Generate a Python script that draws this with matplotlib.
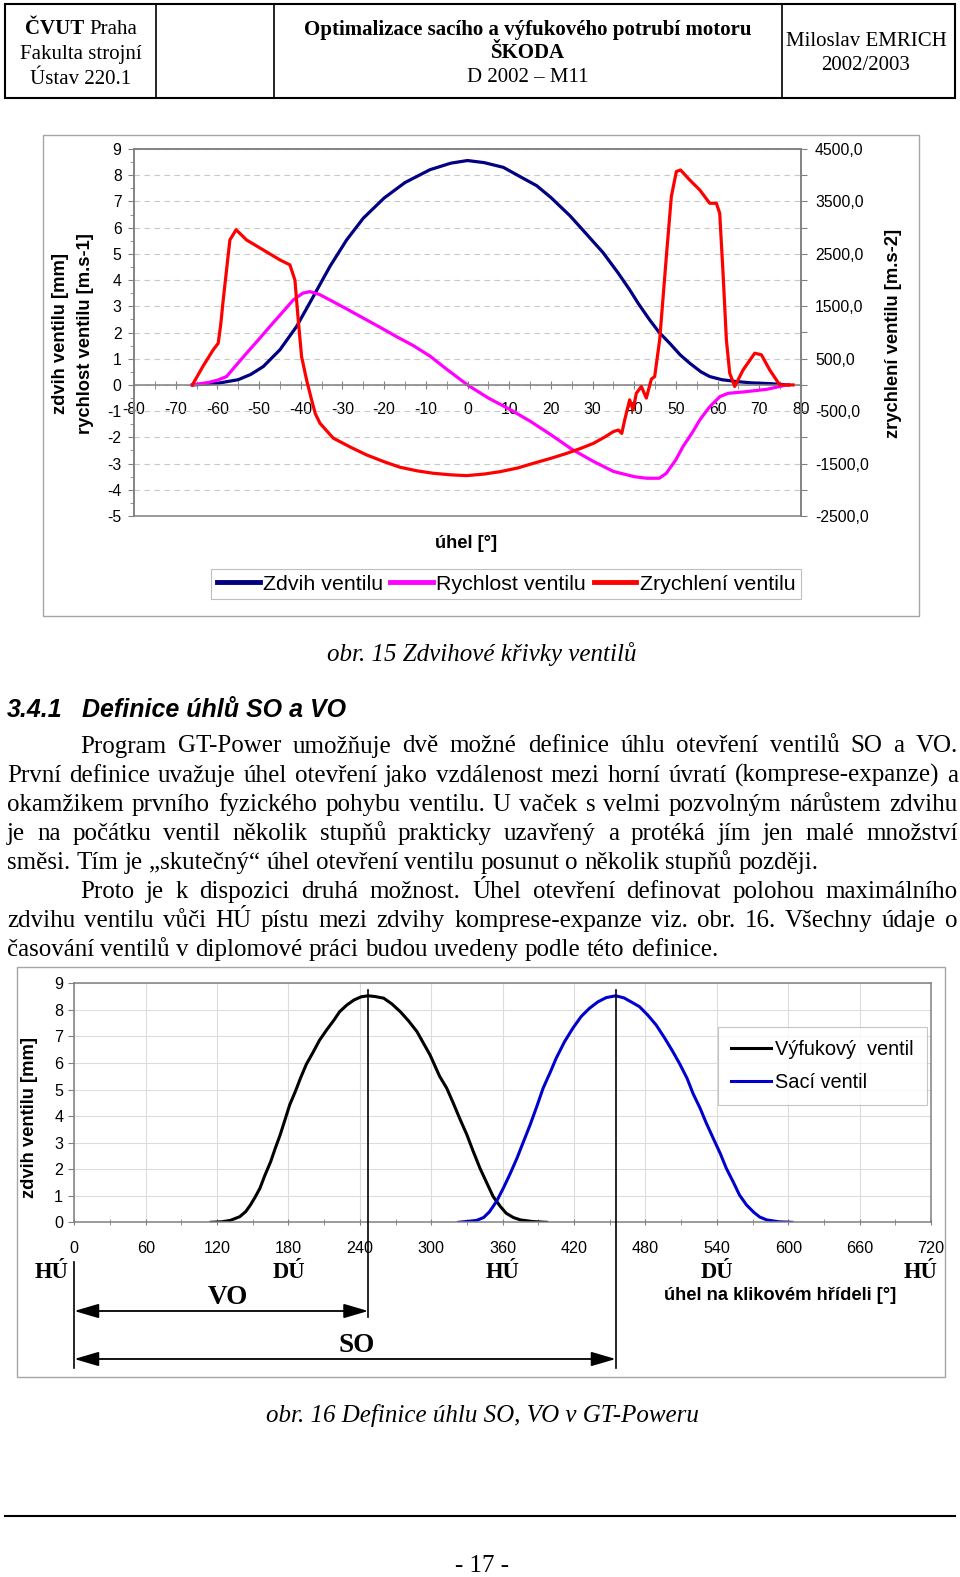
import numpy as np
import matplotlib
matplotlib.use('Agg')
import matplotlib.pyplot as plt
from matplotlib.patches import Rectangle
from matplotlib.lines import Line2D
from matplotlib.ticker import MultipleLocator
from matplotlib.transforms import blended_transform_factory

# --- page geometry (pixels) ---
W, H = 960, 1577
SERIF = 'Liberation Serif'
SANS = 'Liberation Sans'
BODY_SIZE = 18
TEXT_RIGHT = 958

# --- DATA: obr. 15 (valve lift / velocity / acceleration vs. angle) ---
lift_deg = [-66, -60, -55, -52, -49, -45, -41, -37, -33, -29, -25, -20, -15, -9, -4, 0, 4,
            8.6, 12, 16.6, 20, 24.6, 28, 32.5, 36, 38.9, 41, 43.7, 46, 48.5, 51, 53.3, 56,
            58.1, 61, 64.5, 68, 72.5, 77]
lift_mm = [0.0, 0.06, 0.2, 0.4, 0.7, 1.34, 2.23, 3.37, 4.52, 5.53, 6.36, 7.13, 7.72, 8.21,
           8.46, 8.56, 8.48, 8.3, 8.0, 7.6, 7.15, 6.45, 5.85, 5.05, 4.3, 3.63, 3.1, 2.48, 2.0,
           1.59, 1.15, 0.83, 0.5, 0.32, 0.2, 0.13, 0.08, 0.05, 0.0]

vel_deg = [-66, -62, -60, -57.8, -55.5, -53, -50, -47.4, -44.5, -41.8, -39.5, -37.8, -35.5,
           -33, -29, -25, -21, -17, -13, -9, -5, 0, 5, 10, 15, 20, 25, 30, 35, 40, 43, 46,
           47.7, 50, 51.7, 54, 55.7, 58, 60.5, 62.5, 66, 71.7, 74.9, 76.5]
vel_ms = [0.0, 0.1, 0.18, 0.32, 0.75, 1.21, 1.75, 2.23, 2.75, 3.24, 3.5, 3.56, 3.45, 3.24,
          2.9, 2.55, 2.2, 1.84, 1.5, 1.1, 0.6, 0.0, -0.5, -0.92, -1.38, -1.9, -2.45, -2.9,
          -3.3, -3.5, -3.56, -3.56, -3.37, -2.85, -2.35, -1.8, -1.34, -0.85, -0.45, -0.32,
          -0.27, -0.17, -0.06, 0.0]

acc_deg = [-66, -63.5, -61, -59.8, -59.2, -58.6, -57, -55.5, -53, -49, -45, -42.6, -41.4,
           -40.6, -39.8, -38.6, -37.4, -36.5, -35.4, -32.2, -28, -24.2, -20, -16.2, -12, -8.2,
           -4, -0.2, 4, 7.8, 12, 15.8, 20, 23.8, 27, 30.2, 33, 35, 36.2, 37, 37.7, 38.9, 39.7,
           40.5, 41.7, 42.9, 44.1, 44.9, 46.1, 47.7, 48.9, 50.1, 51.1, 53.3, 55.7, 58.1, 59.7,
           60.5, 61.3, 62.1, 62.9, 64.1, 66.1, 68.9, 70.5, 72.5, 74.9, 78.1]
acc_ms2 = [0, 350, 670, 795, 1150, 1620, 2765, 2960, 2765, 2575, 2385, 2290, 2000, 1240, 540,
           95, -285, -550, -730, -1015, -1190, -1335, -1465, -1570, -1640, -1685, -1715, -1730,
           -1700, -1655, -1585, -1495, -1400, -1305, -1215, -1115, -990, -890, -860, -925, -670,
           -285, -475, -160, -30, -250, 110, 160, 860, 2450, 3595, 4070, 4100, 3910, 3720, 3465,
           3465, 3275, 2130, 860, 225, -30, 285, 605, 575, 285, 0, 0]

top_xticks = list(range(-80, 81, 10))
acc_ticks = list(range(-2500, 4501, 500))
acc_labels = ['-2500,0', '', '-1500,0', '', '-500,0', '', '500,0', '', '1500,0', '',
              '2500,0', '', '3500,0', '', '4500,0']
top_labels = ['Zdvih ventilu', 'Rychlost ventilu', 'Zrychlení ventilu']

# --- DATA: obr. 16 (exhaust / intake lift vs. crank angle) ---
exh_deg = [115, 124, 131, 139, 144, 148, 152, 156, 160, 165, 169, 173, 177, 181, 186, 190,
           195, 201, 206, 212, 218, 223, 229, 235, 241, 247, 253, 260, 267, 274, 281, 288,
           293, 299, 303, 307, 313, 318, 324, 330, 335, 341, 347, 352, 358, 363, 369, 375,
           385, 397]
exh_lift = [0.0, 0.02, 0.07, 0.21, 0.4, 0.65, 0.95, 1.28, 1.75, 2.28, 2.8, 3.29, 3.85, 4.42,
            4.95, 5.42, 5.95, 6.43, 6.85, 7.24, 7.6, 7.93, 8.18, 8.37, 8.49, 8.53, 8.5, 8.44,
            8.22, 7.93, 7.58, 7.18, 6.78, 6.3, 5.9, 5.5, 5.05, 4.54, 3.9, 3.29, 2.7, 2.03,
            1.45, 0.97, 0.6, 0.34, 0.18, 0.09, 0.03, 0.0]
int_deg = [323, 338, 344, 349, 355, 360.5, 366, 372, 377, 383, 389, 394, 400, 405, 412, 419,
           426, 433, 440, 447, 455, 462, 468, 475, 482, 489, 496, 503, 509, 515, 520, 526,
           531, 537, 543, 548, 554, 559, 565, 571, 576, 582, 592, 603]
int_lift = [0.0, 0.07, 0.18, 0.4, 0.8, 1.28, 1.8, 2.41, 2.98, 3.66, 4.4, 5.05, 5.65, 6.18,
            6.8, 7.31, 7.75, 8.06, 8.3, 8.46, 8.53, 8.45, 8.3, 8.12, 7.8, 7.43, 6.95, 6.43,
            5.95, 5.42, 4.85, 4.29, 3.75, 3.16, 2.58, 2.03, 1.5, 1.03, 0.65, 0.38, 0.2, 0.09,
            0.02, 0.0]
bottom_labels = ['Výfukový  ventil', 'Sací ventil']
dead_centres = [(0, 'HÚ'), (180, 'DÚ'), (360, 'HÚ'), (540, 'DÚ'), (720, 'HÚ')]

body_lines = [
    ('Program GT-Power umožňuje dvě možné definice úhlu otevření ventilů SO a VO.', 80.5, True),
    ('První definice uvažuje úhel otevření jako vzdálenost mezi horní úvratí (komprese-expanze) a', 7, True),
    ('okamžikem prvního fyzického pohybu ventilu. U vaček s velmi pozvolným nárůstem zdvihu', 7, True),
    ('je na počátku ventil několik stupňů prakticky uzavřený a protéká jím jen malé množství', 7, True),
    ('směsi. Tím je „skutečný“ úhel otevření ventilu posunut o několik stupňů později.', 7, False),
    ('Proto je k dispozici druhá možnost. Úhel otevření definovat polohou maximálního', 80.5, True),
    ('zdvihu ventilu vůči HÚ pístu mezi zdvihy komprese-expanze viz. obr. 16. Všechny údaje o', 7, True),
    ('časování ventilů v diplomové práci budou uvedeny podle této definice.', 7, False),
]

plt.rcParams['font.family'] = [SANS, 'DejaVu Sans']
plt.rcParams['axes.unicode_minus'] = False
fig = plt.figure(figsize=(W / 100, H / 100), dpi=100)


def fx(px):
    return px / W


def fy(py):
    return 1 - py / H


def rect(x0, y0, x1, y1):
    return [fx(x0), fy(y1), (x1 - x0) / W, (y1 - y0) / H]


def box(x0, y0, x1, y1, **kw):
    fig.add_artist(Rectangle((fx(x0), fy(y1)), (x1 - x0) / W, (y1 - y0) / H,
                             transform=fig.transFigure, fill=False, **kw))


def hline(x0, x1, y, **kw):
    fig.add_artist(Line2D([fx(x0), fx(x1)], [fy(y), fy(y)], transform=fig.transFigure, **kw))


def vline(x, y0, y1, **kw):
    fig.add_artist(Line2D([fx(x), fx(x)], [fy(y0), fy(y1)], transform=fig.transFigure, **kw))


def txt(x, y, s, **kw):
    kw.setdefault('family', SERIF)
    kw.setdefault('ha', 'center')
    kw.setdefault('va', 'center')
    return fig.text(fx(x), fy(y), s, **kw)


# --- 1. PAGE HEADER ---
box(5, 4, 955, 98, lw=1.5, ec='black')
for xd in [156, 273.5, 781.5]:
    vline(xd, 4, 98, lw=1.2, color='black')
txt(84.5, 29, 'ČVUT', fontsize=15, weight='bold', ha='right')
txt(89.5, 29, 'Praha', fontsize=15, ha='left')
txt(80.5, 54.5, 'Fakulta strojní', fontsize=15)
txt(80.5, 79.5, 'Ústav 220.1', fontsize=15)
txt(528, 29.5, 'Optimalizace sacího a výfukového potrubí motoru', fontsize=15, weight='bold')
txt(528, 53, 'ŠKODA', fontsize=15, weight='bold')
txt(528, 77, 'D 2002 – M11', fontsize=15)
txt(866, 41, 'Miloslav EMRICH', fontsize=15)
txt(866, 65, '2002/2003', fontsize=15)

# --- 2. TOP CHART (obr. 15) ---
GRAY = '#808080'
box(43, 135, 919, 616, lw=1.0, ec='#a6a6a6')
ax = fig.add_axes(rect(134, 149, 801, 516))
ax.plot(lift_deg, lift_mm, color='#000080', lw=2.3, label=top_labels[0])
ax.plot(vel_deg, vel_ms, color='#ff00ff', lw=2.3, label=top_labels[1])
ax2 = ax.twinx()
ax2.plot(acc_deg, acc_ms2, color='#ff0000', lw=2.3, label=top_labels[2])

ax.set_xlim(-80, 80)
ax.set_ylim(-5, 9)
ax2.set_ylim(-2500, 4500)
ax.set_xticks(top_xticks)
ax.xaxis.set_minor_locator(MultipleLocator(5))
ax.set_yticks(range(-5, 10))
ax.yaxis.set_minor_locator(MultipleLocator(0.5))
ax.spines['bottom'].set_position(('data', 0))
ax.set_axisbelow(True)
ax.grid(axis='y', ls=(0, (5, 4)), color='#c8c8c8', lw=0.8)
ax.tick_params(axis='x', which='both', direction='inout', length=6, pad=9,
               labelsize=11.3, color=GRAY)
ax.tick_params(axis='y', which='major', direction='out', length=4, pad=5,
               labelsize=11.3, color=GRAY)
ax.tick_params(axis='y', which='minor', direction='out', length=3, color=GRAY)
ax2.set_yticks(acc_ticks)
ax2.set_yticklabels(acc_labels)
ax2.tick_params(axis='y', direction='out', length=4, pad=6, labelsize=11.3, color=GRAY)
for a in (ax, ax2):
    for sp in a.spines.values():
        sp.set_color(GRAY)
        sp.set_linewidth(1.1)

txt(60.3, 334, 'zdvih ventilu [mm]', family=SANS, fontsize=13.2, weight='bold', rotation=90)
txt(85.5, 334, 'rychlost ventilu [m.s-1]', family=SANS, fontsize=13.2, weight='bold', rotation=90)
txt(893, 333, 'zrychlení ventilu [m.s-2]', family=SANS, fontsize=13.2, weight='bold', rotation=90)
txt(465.6, 544, 'úhel [°]', family=SANS, fontsize=13.2, weight='bold')

handles = ax.get_lines() + ax2.get_lines()
leg = fig.legend(handles, top_labels, loc='center', bbox_to_anchor=(fx(506), fy(584)),
                 ncol=3, fancybox=False, edgecolor='#b0b0b0', fontsize=15.4,
                 handlelength=2.0, handletextpad=0.15, columnspacing=0.35, borderpad=0.25)
leg.get_frame().set_linewidth(0.8)
for ln in leg.get_lines():
    ln.set_linewidth(3.5)

txt(482, 661.5, 'obr. 15 Zdvihové křivky ventilů', fontsize=BODY_SIZE, style='italic', va='baseline')

# --- 3. HEADING + BODY TEXT (justified) ---
txt(7, 717, '3.4.1', family=SANS, fontsize=18, weight='bold', style='italic', ha='left', va='baseline')
txt(82.5, 717, 'Definice úhlů SO a VO', family=SANS, fontsize=18, weight='bold', style='italic',
    ha='left', va='baseline')

renderer = fig.canvas.get_renderer()
base = 752.5
for line, x0, justify in body_lines:
    words = line.split(' ')
    items = [fig.text(0, fy(base), w, family=SERIF, fontsize=BODY_SIZE, va='baseline') for w in words]
    widths = [t.get_window_extent(renderer).width for t in items]
    if justify:
        gap = (TEXT_RIGHT - x0 - sum(widths)) / (len(words) - 1)
    else:
        gap = 0.25 * BODY_SIZE * 100 / 72
    xpos = x0
    for t, wd in zip(items, widths):
        t.set_x(fx(xpos))
        xpos += wd + gap
    base += 29.03

# --- 4. BOTTOM CHART (obr. 16) ---
box(17, 967, 945, 1377, lw=1.0, ec='#a6a6a6')
bx = fig.add_axes(rect(74.3, 983.3, 931, 1222.3))
bx.plot(exh_deg, exh_lift, color='black', lw=2.2, label=bottom_labels[0])
bx.plot(int_deg, int_lift, color='#0000cc', lw=2.2, label=bottom_labels[1])
bx.set_xlim(0, 720)
bx.set_ylim(0, 9)
bx.set_xticks(range(0, 721, 60))
bx.xaxis.set_minor_locator(MultipleLocator(30))
bx.set_yticks(range(0, 10))
bx.set_axisbelow(True)
bx.grid(which='major', color='#dcdcdc', lw=0.8)
bx.tick_params(axis='x', which='both', direction='inout', length=5, pad=11,
               labelsize=11.6, color=GRAY)
bx.tick_params(axis='y', direction='out', length=4, pad=4, labelsize=11.6, color=GRAY)
for sp in bx.spines.values():
    sp.set_color(GRAY)
    sp.set_linewidth(1.1)

txt(30, 1118, 'zdvih ventilu [mm]', family=SANS, fontsize=13.2, weight='bold', rotation=90)
txt(780, 1295, 'úhel na klikovém hřídeli [°]', family=SANS, fontsize=13.2, weight='bold')

leg2 = fig.legend(bx.get_lines(), bottom_labels, loc='upper left',
                  bbox_to_anchor=(fx(718), fy(1027)), fancybox=False, edgecolor='#b8b8b8',
                  fontsize=14.4, handlelength=2.0, handletextpad=0.2, labelspacing=0.7,
                  borderpad=0.65, borderaxespad=0)
leg2.get_frame().set_linewidth(0.8)

# max-lift angles define VO / SO
vo_angle = exh_deg[int(np.argmax(exh_lift))]
so_angle = int_deg[int(np.argmax(int_lift))]
trans = blended_transform_factory(bx.transData, fig.transFigure)
for ang, y_end in [(vo_angle, 1317), (so_angle, 1368)]:
    fig.add_artist(Line2D([ang, ang], [fy(990), fy(y_end)], transform=trans, color='black', lw=1.2))
fig.add_artist(Line2D([0, 0], [fy(1262), fy(1368)], transform=trans, color='black', lw=1.2))

arrow = dict(arrowstyle='<|-|>,head_length=0.75,head_width=0.22', color='black', lw=1.3,
             mutation_scale=20, shrinkA=0, shrinkB=0)
bx.annotate('', xy=(vo_angle, fy(1311)), xycoords=trans, xytext=(0, fy(1311)),
            textcoords=trans, arrowprops=arrow, annotation_clip=False)
bx.annotate('', xy=(so_angle, fy(1359)), xycoords=trans, xytext=(0, fy(1359)),
            textcoords=trans, arrowprops=arrow, annotation_clip=False)

for ang, lab in dead_centres:
    ha, dx = 'center', 0
    if ang == 0:
        ha, dx = 'right', -6
    elif ang == 720:
        ha, dx = 'right', 7
    bx.text(ang + dx / 1.19, fy(1273), lab, transform=trans, family=SERIF, fontsize=16.3,
            weight='bold', ha=ha, va='center')

txt(228, 1297, 'VO', fontsize=19.6, weight='bold')
txt(357, 1345, 'SO', fontsize=19.6, weight='bold')

txt(482, 1422, 'obr. 16 Definice úhlu SO, VO v GT-Poweru', fontsize=BODY_SIZE, style='italic',
    va='baseline')

# --- 5. FOOTER ---
hline(5, 955, 1515.6, lw=1.5, color='black')
txt(482, 1572, '- 17 -', fontsize=BODY_SIZE, va='baseline')

fig.savefig('out.png', dpi=100)
